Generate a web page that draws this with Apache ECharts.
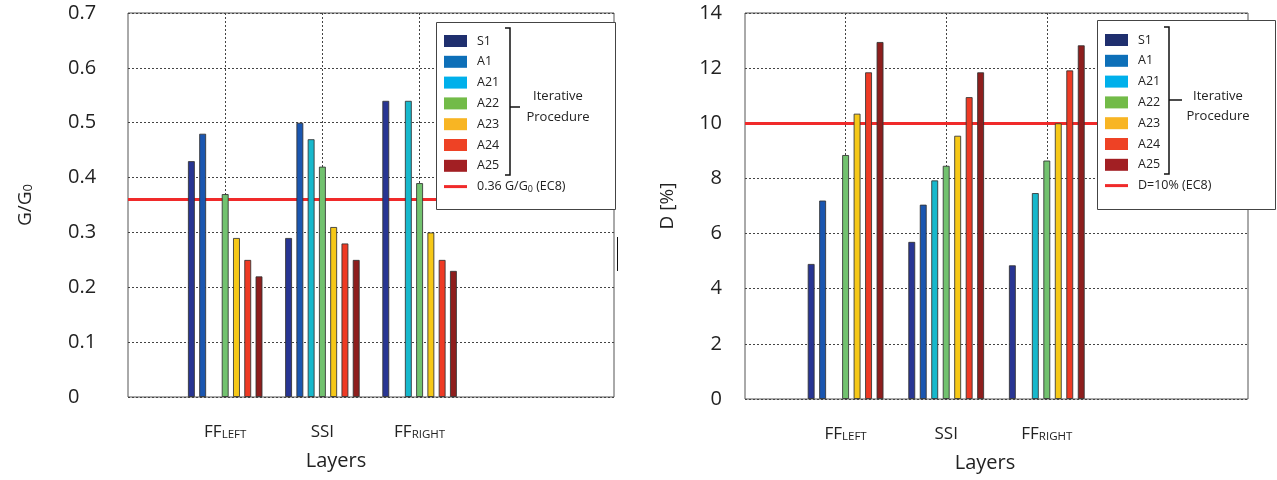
<!DOCTYPE html>
<html>
<head>
<meta charset="utf-8">
<script src="https://cdn.jsdelivr.net/npm/echarts@6/dist/echarts.min.js"></script>
<style>
html,body{margin:0;padding:0;background:#fff;}
#chart{width:1277px;height:480px;}
</style>
</head>
<body>
<div id="chart"></div>
<script>
// ---- data ----
const categories = ['FF_LEFT', 'SSI', 'FF_RIGHT'];
const catMain = ['FF', 'SSI', 'FF'];
const catSub = ['LEFT', '', 'RIGHT'];
const seriesNames = ['S1', 'A1', 'A21', 'A22', 'A23', 'A24', 'A25'];

// G/G0 values (left chart)
const gS1  = [0.43, 0.29, 0.54];
const gA1  = [0.48, 0.50, null];
const gA21 = [null, 0.47, 0.54];
const gA22 = [0.37, 0.42, 0.39];
const gA23 = [0.29, 0.31, 0.30];
const gA24 = [0.25, 0.28, 0.25];
const gA25 = [0.22, 0.25, 0.23];

// D [%] values (right chart)
const dS1  = [4.9, 5.7, 4.85];
const dA1  = [7.2, 7.05, null];
const dA21 = [null, 7.93, 7.47];
const dA22 = [8.85, 8.46, 8.65];
const dA23 = [10.35, 9.55, 10.0];
const dA24 = [11.85, 10.95, 11.92];
const dA25 = [12.95, 11.85, 12.83];

const gThreshold = 0.36;
const dThreshold = 10;
const gLineName = '0.36 G/G0 (EC8)';
const dLineName = 'D=10% (EC8)';

const gAxisRange = [0, 0.7, 0.1];
const dAxisRange = [0, 14, 2];

// ---- styles ----
const barColors = ['#283593', '#1a56b0', '#17b8cc', '#72c26f', '#f6c817', '#ee3a24', '#8e1e1d'];
const legendColors = ['#1f2f6e', '#0d6fb8', '#00b0eb', '#72bb48', '#f8b523', '#ee4225', '#a21f23'];
const FONT = 'Open Sans';
const redColor = '#f02a2a';

const gValues = [gS1, gA1, gA21, gA22, gA23, gA24, gA25];
const dValues = [dS1, dA1, dA21, dA22, dA23, dA24, dA25];

const axisData = ['pad0'].concat(categories, ['pad4', 'pad5']);
function padData(arr) { return [null].concat(arr, [null, null]); }

function catFormatter(v) {
  const i = categories.indexOf(v);
  if (i < 0) return '';
  return '{m|' + catMain[i] + '}' + (catSub[i] ? '{s|' + catSub[i] + '}' : '');
}

const gridLine = { show: true, lineStyle: { color: '#444', width: 1, type: [2, 2] } };

function makeXAxis(gridIndex, namePad) {
  return {
    type: 'category', gridIndex: gridIndex, data: axisData, boundaryGap: false,
    axisLine: { show: false }, axisTick: { show: false },
    axisLabel: {
      interval: 0, margin: 24, formatter: catFormatter,
      rich: {
        m: { fontFamily: FONT, fontSize: 17, color: '#222', lineHeight: 20, verticalAlign: 'bottom' },
        s: { fontFamily: FONT, fontSize: 11.5, color: '#222', lineHeight: 10, verticalAlign: 'bottom' }
      }
    },
    splitLine: Object.assign({}, gridLine, { interval: function (idx, val) { return categories.indexOf(val) >= 0; } }),
    name: 'Layers', nameLocation: 'middle', nameGap: 54,
    nameTextStyle: { fontFamily: FONT, fontSize: 20, color: '#222', padding: namePad }
  };
}

const series = [];
seriesNames.forEach(function (n, k) {
  series.push({
    name: n, type: 'bar', xAxisIndex: 0, yAxisIndex: 0, data: padData(gValues[k]),
    barWidth: 7, barGap: '61%', z: 2,
    itemStyle: { color: barColors[k], borderColor: 'rgba(50,50,50,0.85)', borderWidth: 1 }
  });
});
seriesNames.forEach(function (n, k) {
  series.push({
    name: n, type: 'bar', xAxisIndex: 1, yAxisIndex: 1, data: padData(dValues[k]),
    barWidth: 7, barGap: '64%', z: 2,
    itemStyle: { color: barColors[k], borderColor: 'rgba(50,50,50,0.85)', borderWidth: 1 }
  });
});
series.push({
  name: gLineName, type: 'line', xAxisIndex: 0, yAxisIndex: 0, data: [], symbol: 'none', z: 2,
  lineStyle: { color: redColor, width: 3 }, itemStyle: { color: redColor },
  markLine: { silent: true, symbol: 'none', z: 2, label: { show: false },
    lineStyle: { color: redColor, width: 3, type: 'solid' }, data: [{ yAxis: gThreshold }] }
});
series.push({
  name: dLineName, type: 'line', xAxisIndex: 1, yAxisIndex: 1, data: [], symbol: 'none', z: 2,
  lineStyle: { color: redColor, width: 3 }, itemStyle: { color: redColor },
  markLine: { silent: true, symbol: 'none', z: 2, label: { show: false },
    lineStyle: { color: redColor, width: 3, type: 'solid' }, data: [{ yAxis: dThreshold }] }
});

const lineIcon = 'path://M0,0H23V3H0Z';
function legendData(lineName) {
  const d = seriesNames.map(function (n, k) {
    return { name: n, icon: 'rect', itemStyle: { color: legendColors[k], borderWidth: 0 } };
  });
  d.push({ name: lineName, icon: lineIcon, itemStyle: { color: redColor, borderWidth: 0 } });
  return d;
}
function makeLegend(left, top) {
  return {
    orient: 'vertical', left: left, top: top, padding: 0, z: 8,
    itemWidth: 23, itemHeight: 12, itemGap: 6.8, selectedMode: false, symbolKeepAspect: true,
    data: null,
    textStyle: {
      fontFamily: FONT, fontSize: 12.5, color: '#222', lineHeight: 14, padding: [0, 0, 0, 5],
      rich: {
        t: { fontFamily: FONT, fontSize: 12.5, color: '#222', lineHeight: 14 },
        s: { fontFamily: FONT, fontSize: 9, color: '#222', lineHeight: 10, verticalAlign: 'bottom' }
      }
    },
    formatter: function (name) {
      if (name === gLineName) return '{t|0.36 G/G}{s|0}{t| (EC8)}';
      return name;
    }
  };
}
const legendL = makeLegend(444, 34); legendL.data = legendData(gLineName);
const legendR = makeLegend(1105, 33); legendR.data = legendData(dLineName);

function bracket(x, yTop, yBot, yMid, tickLen) {
  return [
    { type: 'polyline', z: 9, shape: { points: [[x - 5, yTop], [x, yTop], [x, yBot], [x - 5, yBot]] },
      style: { stroke: '#111', lineWidth: 1.5, fill: null } },
    { type: 'line', z: 9, shape: { x1: x, y1: yMid, x2: x + tickLen, y2: yMid },
      style: { stroke: '#111', lineWidth: 1.5 } }
  ];
}
function label(x, y, t) {
  return { type: 'text', z: 9, x: x, y: y,
    style: { text: t, fontFamily: FONT, fontSize: 13, fill: '#222', align: 'center', verticalAlign: 'middle' } };
}

const graphics = [
  { type: 'rect', z: 7, shape: { x: 436.5, y: 22.5, width: 179, height: 187 },
    style: { fill: '#fff', stroke: '#444', lineWidth: 1 } },
  { type: 'rect', z: 7, shape: { x: 1097.5, y: 20.5, width: 178, height: 189 },
    style: { fill: '#fff', stroke: '#444', lineWidth: 1 } },
  label(558, 96, 'Iterative'), label(558, 117, 'Procedure'),
  label(1218, 96, 'Iterative'), label(1218, 116, 'Procedure'),
  { type: 'line', z: 9, shape: { x1: 617.5, y1: 237, x2: 617.5, y2: 271 }, style: { stroke: '#111', lineWidth: 1 } }
].concat(bracket(510, 28, 175, 107, 10), bracket(1169, 27, 174, 100, 13));

const option = {
  animation: false,
  backgroundColor: '#fff',
  textStyle: { fontFamily: FONT },
  grid: [
    { left: 128, top: 13, width: 486, height: 384, show: true, borderColor: '#555', borderWidth: 1, backgroundColor: 'transparent' },
    { left: 745, top: 13, width: 503, height: 386, show: true, borderColor: '#555', borderWidth: 1, backgroundColor: 'transparent' }
  ],
  xAxis: [makeXAxis(0, [0, 70, 0, 0]), makeXAxis(1, [0, 23, 0, 0])],
  yAxis: [
    { type: 'value', gridIndex: 0, min: gAxisRange[0], max: gAxisRange[1], interval: gAxisRange[2],
      axisLine: { show: false }, axisTick: { show: false },
      axisLabel: { align: 'left', margin: 60, fontFamily: FONT, fontSize: 20, color: '#222',
        formatter: function (v) { return v === 0 ? '0' : v.toFixed(1); } },
      splitLine: gridLine,
      name: '{a|G/G}{b|0}', nameLocation: 'middle', nameGap: 93,
      nameTextStyle: { rich: {
        a: { fontFamily: FONT, fontSize: 19, color: '#222', lineHeight: 22, verticalAlign: 'bottom' },
        b: { fontFamily: FONT, fontSize: 13, color: '#222', lineHeight: 13, verticalAlign: 'bottom' } } } },
    { type: 'value', gridIndex: 1, min: dAxisRange[0], max: dAxisRange[1], interval: dAxisRange[2],
      axisLine: { show: false }, axisTick: { show: false },
      axisLabel: { align: 'right', margin: 23, fontFamily: FONT, fontSize: 20, color: '#222' },
      splitLine: gridLine,
      name: 'D [%]', nameLocation: 'middle', nameGap: 68,
      nameTextStyle: { fontFamily: FONT, fontSize: 19, color: '#222' } }
  ],
  legend: [legendL, legendR],
  graphic: graphics,
  series: series
};

const chart = echarts.init(document.getElementById('chart'), null, { renderer: 'canvas' });
chart.setOption(option);
</script>
</body>
</html>
